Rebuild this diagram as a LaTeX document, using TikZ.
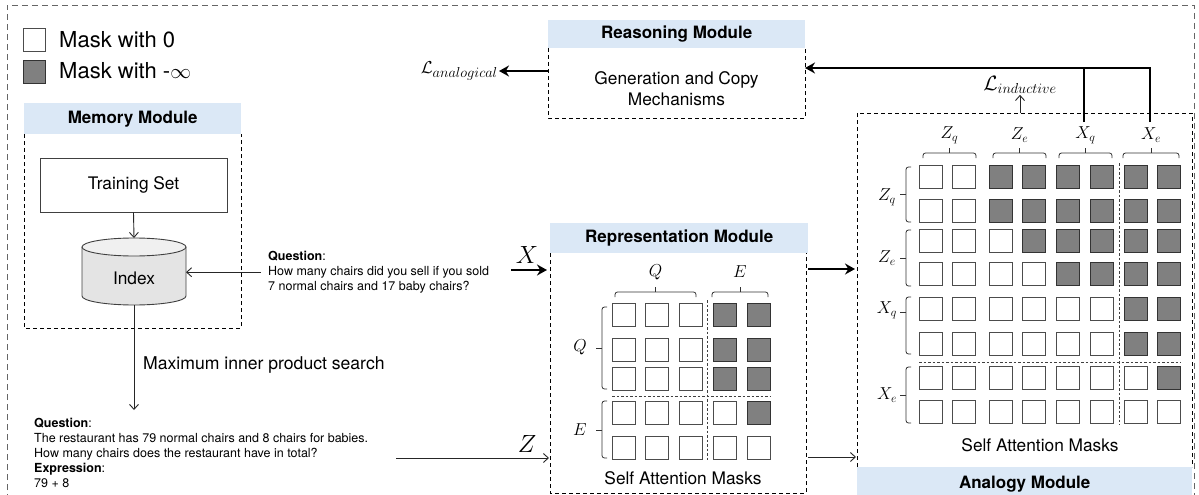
\documentclass[tikz,border=0pt]{standalone}
\usepackage{fontspec}
\setmainfont{TeX Gyre Heros}
\usetikzlibrary{arrows.meta}
\definecolor{hdrblue}{RGB}{219,232,246}
\definecolor{cellg}{RGB}{128,128,128}
\definecolor{cylbody}{RGB}{228,228,228}
\definecolor{cyltop}{RGB}{240,240,240}
\newcommand\hbrk[3]{% x1 x2 ybase : brace opening downwards, tick up
  \draw[brk] ({#1},{#3}) -- ({#1},{#3-5}) -- ({#2},{#3-5}) -- ({#2},{#3});
  \draw[brk] ({(#1+#2)/2},{#3-5}) -- ({(#1+#2)/2},{#3-10});}
\newcommand\vbrk[4]{% y1 y2 xbase tipy : brace opening right, tick left
  \draw[brk] ({#3},{#1}) -- ({#3-5},{#1}) -- ({#3-5},{#2}) -- ({#3},{#2});
  \draw[brk] ({#3-5},{#4}) -- ({#3-11},{#4});}
\begin{document}
\begin{tikzpicture}[x=1pt,y=-1pt,
  cellw/.style={draw=black!70, line width=0.9pt, fill=white},
  cellk/.style={draw=black!80, line width=0.9pt, fill=cellg},
  dbox/.style={draw=black, line width=0.8pt, dash pattern=on 4pt off 3pt},
  outer/.style={draw=black!60, line width=0.9pt, dash pattern=on 6pt off 4pt},
  hdrbox/.style={fill=hdrblue, draw=none, inner sep=0pt, font=\fontsize{17}{20}\selectfont\bfseries},
  solidbox/.style={draw=black!75, line width=0.9pt, fill=white, inner sep=0pt},
  sep/.style={draw=black!75, line width=0.8pt, dash pattern=on 2.5pt off 2pt},
  brk/.style={draw=black!80, line width=0.8pt, rounded corners=2.5pt},
  tarrow/.style={draw=black!85, line width=0.9pt, -{Straight Barb[length=5pt,width=9pt]}},
  Tarrow/.style={draw=black, line width=2.4pt, -{Stealth[length=10pt,width=11pt]}},
  Tline/.style={draw=black, line width=2.4pt},
  body/.style={font=\fontsize{17.3}{21}\selectfont},
  small/.style={font=\fontsize{12.5}{15}\selectfont},
  legtxt/.style={font=\fontsize{22}{26}\selectfont, inner sep=0pt},
  mlab/.style={font=\fontsize{17.5}{20}\selectfont, inner sep=1pt},
  biglab/.style={font=\fontsize{26}{30}\selectfont, inner sep=0pt},
]
\useasboundingbox (0,0) rectangle (1199,495);
% outer frame
\draw[outer] (7,500) -- (7,5) -- (1194,5) -- (1194,500);

% legend
\node[cellw, minimum width=22, minimum height=23, inner sep=0, anchor=north west] (lg0) at (23,28) {};
\node[cellk, minimum width=22, minimum height=23, inner sep=0, anchor=north west] (lg1) at (23,60) {};
\node[legtxt, anchor=west] (lt0) at (59,40) {Mask with 0};
\node[legtxt, anchor=west] (lt1) at (59,71) {Mask with -$\infty$};

% memory module
\node[hdrbox, minimum width=217, minimum height=31, anchor=north west] (memh) at (24,103) {Memory Module};
\draw[dbox] (24,134) -- (24,328) -- (241,328) -- (241,134);
\node[solidbox, minimum width=187, minimum height=54, body] (train) at (133.5,185) {Training Set};
\fill[cylbody] (82,247) -- (82,296) arc[start angle=180, end angle=360, x radius=52pt, y radius=9pt] -- (186,247) -- cycle;
\draw[draw=black!75, line width=0.9pt] (82,247) -- (82,296) arc[start angle=180, end angle=360, x radius=52pt, y radius=9pt] -- (186,247);
\draw[draw=black!75, line width=0.9pt, fill=cyltop] (134,247) ellipse [x radius=52pt, y radius=9pt];
\node[body] (idx) at (134,278) {Index};
\coordinate (cyltop) at (134,238);
\coordinate (cylbot) at (134,305);
\coordinate (cylright) at (186,272);
\draw[tarrow] (train.south) -- (cyltop);

% question (input)
\node[small, align=left, anchor=north west, inner sep=0pt] (q1) at (268,251)
  {\textbf{Question}:\\How many chairs did you sell if you sold\\7 normal chairs and 17 baby chairs?};
\draw[tarrow] ([xshift=-7pt]q1.west) -- (q1.west -| cylright);

% retrieval
\coordinate (mipsend) at (134,410);
\draw[tarrow] (cylbot) -- (mipsend);
\node[font=\fontsize{17.6}{21}\selectfont, anchor=west, inner sep=0pt] (mips) at (143,365) {Maximum inner product search};
\node[small, align=left, anchor=north west, inner sep=0pt] (q2) at (34,418)
  {\textbf{Question}:\\The restaurant has 79 normal chairs and 8 chairs for babies.\\How many chairs does the restaurant have in total?\\\textbf{Expression}:\\79 + 8};

% X and Z inputs
\coordinate (xs) at (511,270);
\coordinate (repXin) at (547,270);
\draw[Tarrow] (xs) -- (repXin);
\node[biglab] (xl) at (527,255) {$X$};
\coordinate (zs) at (396,458);
\coordinate (repZin) at (549,458);
\draw[tarrow] (zs) -- (repZin);
\node[biglab] (zl) at (527,444) {$Z$};

% representation module
\node[hdrbox, minimum width=258, minimum height=30, anchor=north west] (reph) at (550,223) {Representation Module};
\draw[dbox] (550,253) -- (550,493) -- (806,493) -- (806,253);
\foreach \r/\y/\s in {1/303/4, 2/338/4, 3/367/4, 4/401/5, 5/436/6}{
  \foreach \c/\x in {1/612, 2/645, 3/679, 4/713, 5/747}{
    \ifnum\c<\s
      \draw[cellw] (\x,\y) rectangle ++(23,23);
    \else
      \draw[cellk] (\x,\y) rectangle ++(23,23);
    \fi
  }
}
\draw[sep] (707,300) -- (707,461);
\draw[sep] (612,396) -- (771,396);
\hbrk{615}{696}{297}
\hbrk{712}{768}{297}
\vbrk{307}{389}{607}{348}
\vbrk{401}{458}{607}{430}
\node[mlab] (rqt) at (655.5,272) {$Q$};
\node[mlab] (ret) at (740,272) {$E$};
\node[mlab] (rql) at (580,347) {$Q$};
\node[mlab] (rel) at (580,430) {$E$};
\node[body] (rsam) at (683,478) {Self Attention Masks};

% representation -> analogy
\coordinate (repE1) at (808,269);
\coordinate (anaW1) at (855,269);
\draw[Tarrow] (repE1) -- (anaW1);
\coordinate (repE2) at (808,457);
\coordinate (anaW2) at (856,457);
\draw[tarrow] (repE2) -- (anaW2);

% analogy module
\draw[dbox] (857,467) -- (857,113) -- (1192,113) -- (1192,467);
\node[hdrbox, minimum width=335, minimum height=33, anchor=north west] (anah) at (857,467) {Analogy Module};
\foreach \r/\y/\s in {1/165/3, 2/199/3, 3/229/4, 4/262/5, 5/297/7, 6/332/7, 7/366/8, 8/400/9}{
  \foreach \c/\x in {1/919, 2/952, 3/989, 4/1022, 5/1056, 6/1090, 7/1124, 8/1157}{
    \ifnum\c<\s
      \draw[cellw] (\x,\y) rectangle ++(23,23);
    \else
      \draw[cellk] (\x,\y) rectangle ++(23,23);
    \fi
  }
}
\draw[sep] (1119,163) -- (1119,425);
\draw[sep] (919,362) -- (1181,362);
\hbrk{923}{976}{158}
\hbrk{993}{1046}{158}
\hbrk{1059}{1112}{158}
\hbrk{1123}{1179}{158}
\vbrk{167}{222}{911}{194}
\vbrk{230}{286}{911}{258}
\vbrk{297}{354}{911}{312}
\vbrk{367}{423}{911}{395}
\node[mlab] (azq) at (949.5,135) {$Z_q$};
\node[mlab] (aze) at (1019.5,135) {$Z_e$};
\node[mlab] (axq) at (1085.5,135) {$X_q$};
\node[mlab] (axe) at (1151,135) {$X_e$};
\node[mlab] (lzq) at (887,197) {$Z_q$};
\node[mlab] (lze) at (887,258) {$Z_e$};
\node[mlab] (lxq) at (887,310) {$X_q$};
\node[mlab] (lxe) at (887,395) {$X_e$};
\node[body] (asam) at (1040,445) {Self Attention Masks};

% reasoning module
\node[hdrbox, minimum width=257, minimum height=28, anchor=north west] (reah) at (548,20) {Reasoning Module};
\draw[dbox] (548,48) -- (548,118) -- (805,118) -- (805,48);
\node[body, align=center] (gen) at (676.5,89) {Generation and Copy\\Mechanisms};
\coordinate (reaW) at (548,71);
\node[font=\fontsize{19}{22}\selectfont, inner sep=1pt, anchor=east] (lana) at (499,71) {$\mathcal{L}_{analogical}$};
\draw[Tarrow] (reaW) -- (lana.east);

% analogy -> reasoning
\coordinate (xeup) at (1150,122);
\coordinate (xqup) at (1084,122);
\coordinate (reaE) at (805,68);
\draw[Tarrow] (xeup) |- (reaE);
\draw[Tline] (xqup) -- (xqup |- reaE);

% inductive loss
\node[font=\fontsize{21}{24}\selectfont, inner sep=1pt] (lind) at (1020,85) {$\mathcal{L}_{inductive}$};
\coordinate (anaTop) at (1020,113);
\draw[tarrow] (anaTop) -- (lind.south);
\end{tikzpicture}
\end{document}
